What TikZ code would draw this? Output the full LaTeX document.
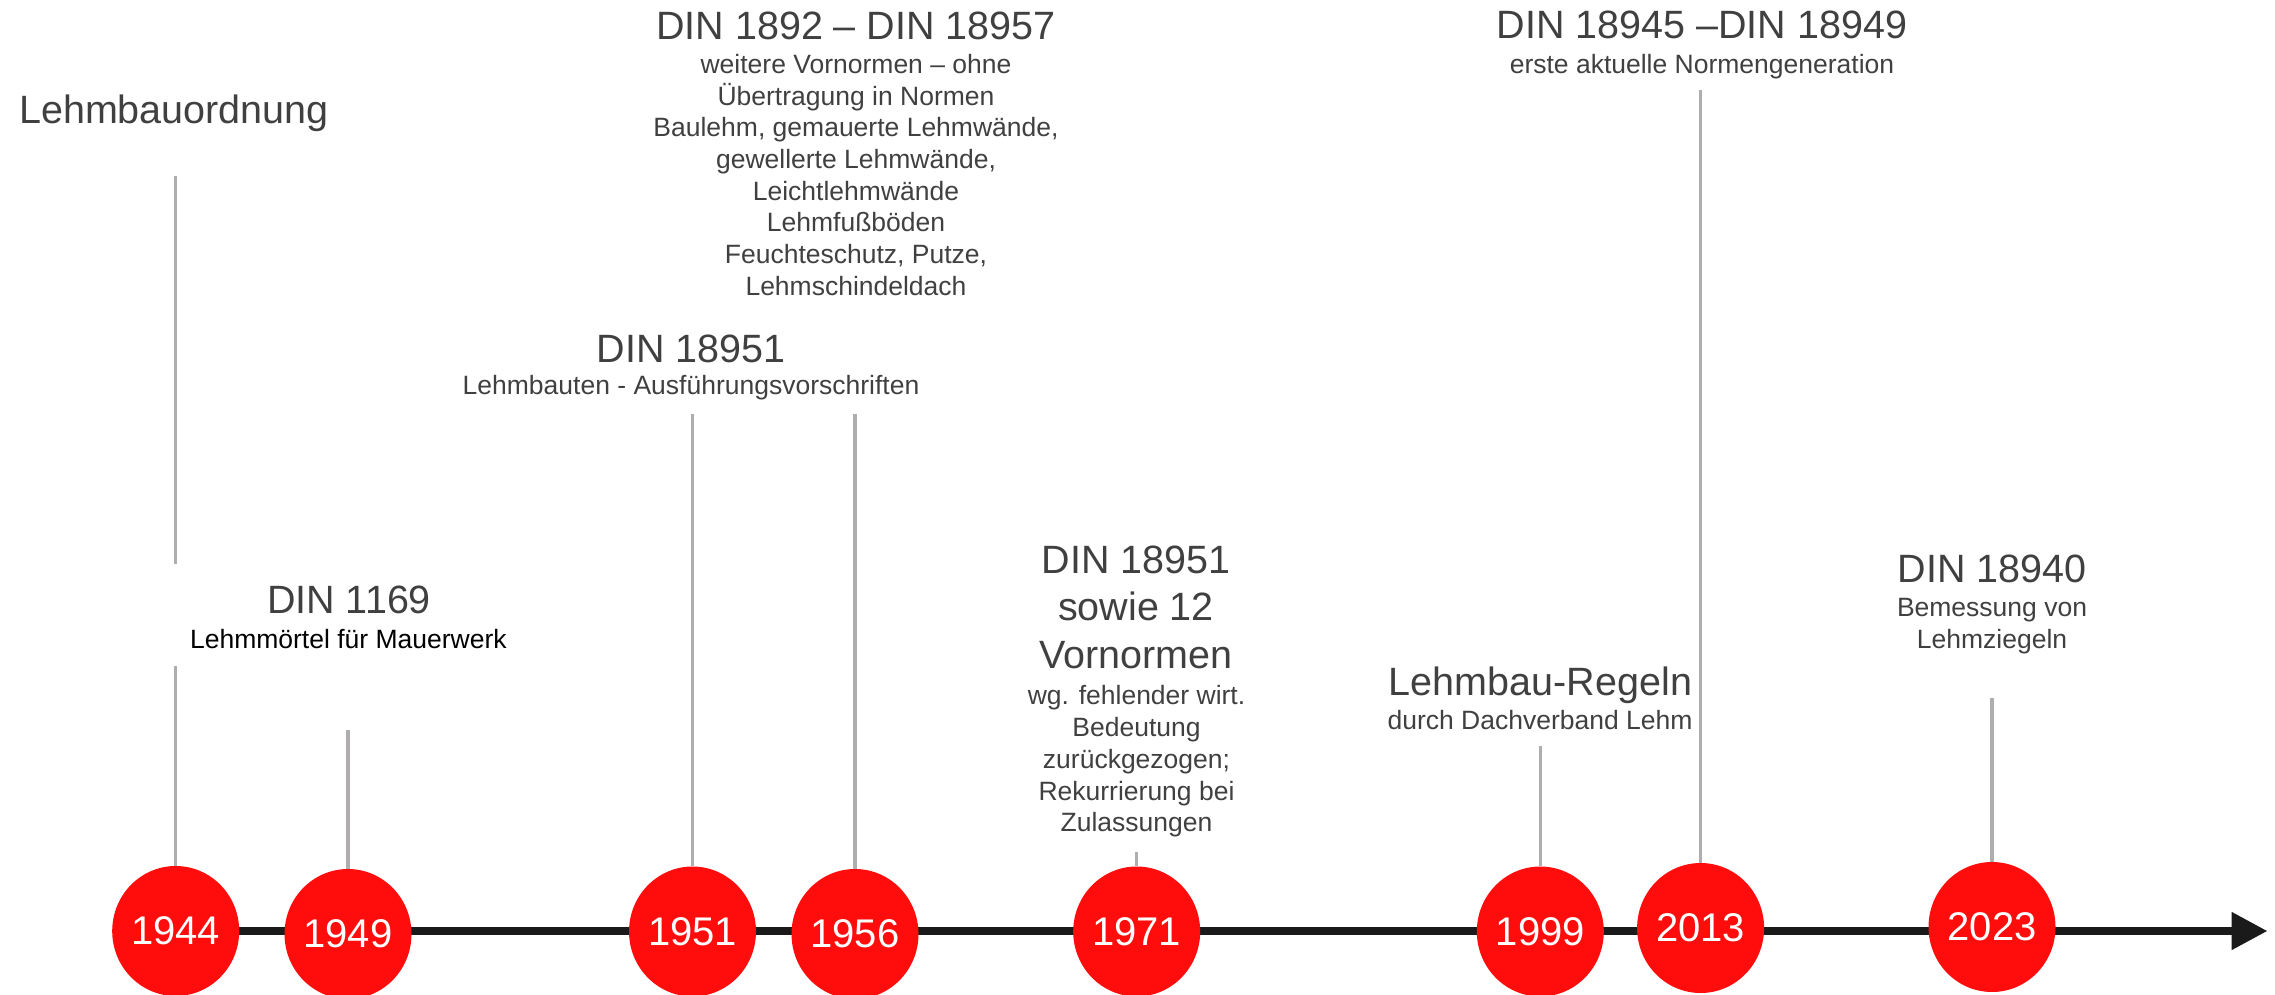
\documentclass[tikz,border=0pt]{standalone}
\usepackage{fontspec}
\setmainfont{Liberation Sans}
\usetikzlibrary{shapes.geometric,arrows.meta,backgrounds}
\definecolor{tlred}{RGB}{255,13,13}
\definecolor{txtgray}{RGB}{64,64,64}
\definecolor{stemgray}{RGB}{176,173,174}
\definecolor{axisblack}{RGB}{26,26,26}
\begin{document}
\begin{tikzpicture}[x=1pt,y=-1pt,
  yearnode/.style={ellipse, fill=tlred, minimum width=127pt, minimum height=130pt, inner sep=0pt, text=white, font=\fontsize{40}{48}\selectfont},
  ttl/.style={anchor=base, inner sep=0pt, text=txtgray, align=center, font=\fontsize{39.5}{47.5}\selectfont},
  sub/.style={anchor=base, inner sep=0pt, text=txtgray, align=center, font=\fontsize{26.5}{31.7}\selectfont},
  stem/.style={draw=stemgray, line width=3.3pt},
  axis/.style={draw=axisblack, line width=8pt, -{Triangle[length=36pt,width=36pt]}}]

\useasboundingbox (0,0) rectangle (2275,995);

% year circles
\node[yearnode] (y1944) at (175.7,931) {1944};
\node[yearnode] (y1949) at (348,934) {1949};
\node[yearnode] (y1951) at (692.5,931.5) {1951};
\node[yearnode] (y1956) at (855,934) {1956};
\node[yearnode] (y1971) at (1136.7,931.5) {1971};
\node[yearnode] (y1999) at (1540.3,931.5) {1999};
\node[yearnode] (y2013) at (1700.6,928) {2013};
\node[yearnode] (y2023) at (1992,927) {2023};

% labels (base anchor = baseline of the last line)
\node[ttl] (t1944) at (174,123.3) {Lehmbauordnung};
\node[ttl] (t1949) at (349,613.3) {DIN 1169};
\node[sub, text=black] (s1949) at (348.4,648.3) {Lehmmörtel für Mauerwerk};
\node[ttl] (t1951) at (691,362.3) {DIN 18951};
\node[sub] (s1951) at (691,394) {Lehmbauten - Ausführungsvorschriften};
\node[ttl] (t1956) at (856,39.3) {DIN 1892 – DIN 18957};
\node[sub] (s1956) at (856,295.2) {weitere Vornormen – ohne\\Übertragung in Normen\\Baulehm, gemauerte Lehmwände,\\gewellerte Lehmwände,\\Leichtlehmwände\\Lehmfußböden\\Feuchteschutz, Putze,\\Lehmschindeldach};
\node[ttl] (t1971) at (1136,668.3) {DIN 18951\\sowie 12\\Vornormen};
\node[sub] (s1971) at (1136.5,831.7) {wg. fehlender wirt.\\Bedeutung\\zurückgezogen;\\Rekurrierung bei\\Zulassungen};
\node[ttl] (t1999) at (1540.5,695) {Lehmbau-Regeln};
\node[sub] (s1999) at (1540,729.3) {durch Dachverband Lehm};
\node[ttl] (t2013) at (1702,38.3) {DIN 18945 –DIN 18949};
\node[sub] (s2013) at (1702,73.3) {erste aktuelle Normengeneration};
\node[ttl] (t2023) at (1992,582.3) {DIN 18940};
\node[sub] (s2023) at (1992,648.3) {Bemessung von\\Lehmziegeln};

% stem ends
\coordinate (a1944top) at (175.7,175.7);
\coordinate (a1944mid) at (175.7,564.3);
\coordinate (a1944low) at (175.7,666);
\coordinate (a1949) at (348,730);
\coordinate (a1951) at (692.5,414.3);
\coordinate (a1956) at (855,414.3);
\coordinate (a1971) at (1136.7,851.7);
\coordinate (a1999) at (1540.3,746);
\coordinate (a2013) at (1700.6,90);
\coordinate (a2023) at (1992,697.7);
\coordinate (axisend) at (2267.5,931);

\begin{pgfonlayer}{background}
  \draw[axis] (y1944.center) -- (axisend);
  \draw[stem] (y1944.north) -- (a1944low);
  \draw[stem] (a1944mid) -- (a1944top);
  \draw[stem] (y1949.north) -- (a1949);
  \draw[stem] (y1951.north) -- (a1951);
  \draw[stem] (y1956.north) -- (a1956);
  \draw[stem] (y1971.north) -- (a1971);
  \draw[stem] (y1999.north) -- (a1999);
  \draw[stem] (y2013.north) -- (a2013);
  \draw[stem] (y2023.north) -- (a2023);
\end{pgfonlayer}
\end{tikzpicture}
\end{document}
